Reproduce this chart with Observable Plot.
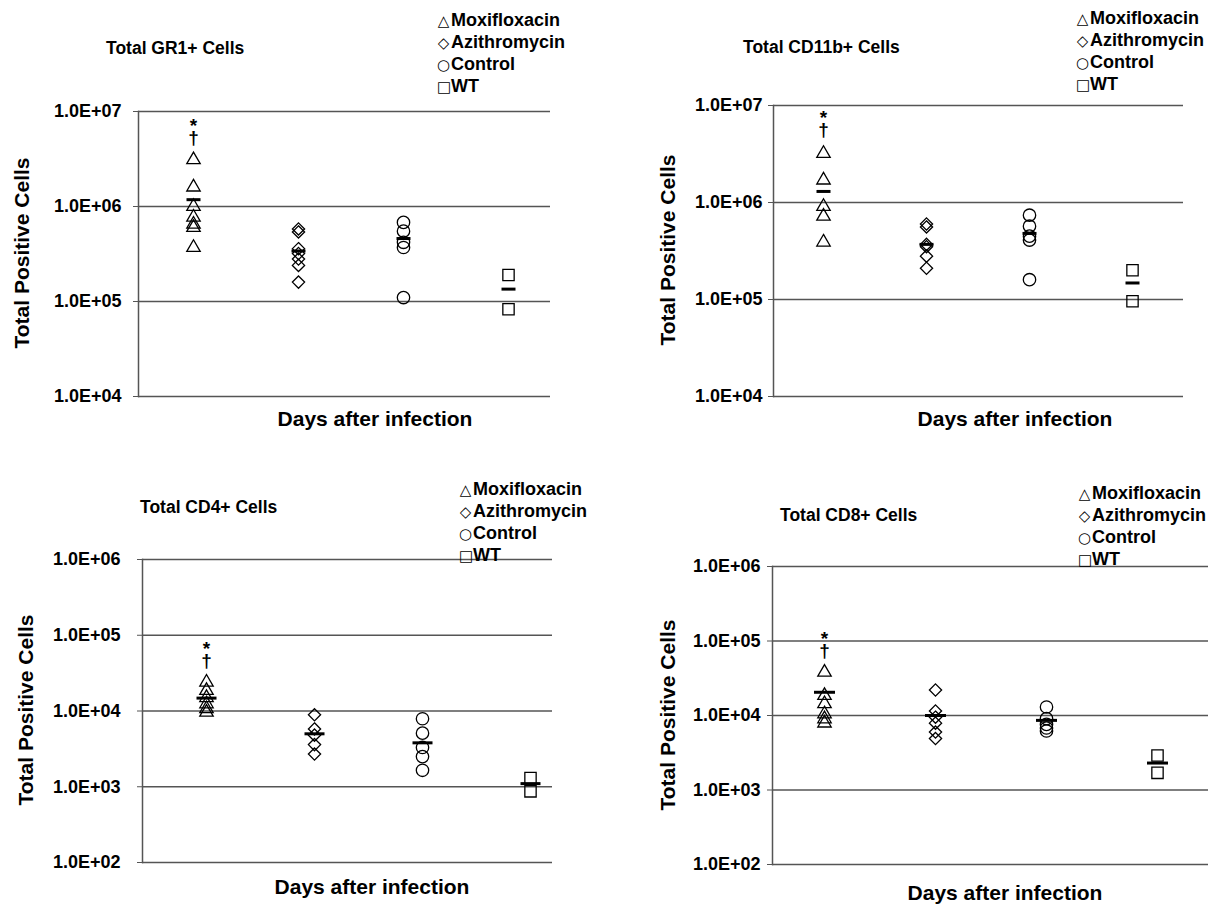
<!DOCTYPE html>
<html><head><meta charset="utf-8">
<script src="https://cdn.jsdelivr.net/npm/d3@7"></script>
<script src="https://cdn.jsdelivr.net/npm/@observablehq/plot@0.6"></script>
<style>
body{margin:0;background:#fff;}
#fig{position:relative;width:1220px;height:904px;overflow:hidden;font-family:"Liberation Sans",Arial,Helvetica,sans-serif;font-weight:bold;color:#000;}
.panel{position:absolute;}
.t{position:absolute;white-space:nowrap;}
.g{display:inline-block;width:13px;text-align:center;font-family:"DejaVu Sans",sans-serif;font-weight:normal;font-size:15px;margin-right:1px;}
</style></head><body><div id="fig"></div>
<script>
// ---- shared labels ----
const groups = ["Moxifloxacin", "Azithromycin", "Control", "WT"];
const legendGlyphs = ["△", "◇", "○", "□"];
const groupSymbols = ["triangle2", "diamond2", "circle", "square2"];
const sigLabel = "*\n†";
const yTitle = "Total Positive Cells";
const xTitle = "Days after infection";

// ---- GR1 ----
const gr1Title = "Total GR1+ Cells";
const gr1Ticks = [1e4, 1e5, 1e6, 1e7];
const gr1Values = [
  [3.1e6, 1.6e6, 1.0e6, 7.7e5, 6.5e5, 6.0e5, 3.7e5],
  [5.8e5, 5.4e5, 3.6e5, 3.2e5, 2.8e5, 2.4e5, 1.6e5],
  [6.8e5, 5.5e5, 4.2e5, 3.7e5, 1.1e5],
  [1.9e5, 8.3e4]
];
const gr1Means = [1.18e6, 3.4e5, 4.6e5, 1.35e5];
const gr1Sig = [6.1e6];

// ---- CD11b ----
const cd11bTitle = "Total CD11b+ Cells";
const cd11bTicks = [1e4, 1e5, 1e6, 1e7];
const cd11bValues = [
  [3.2e6, 1.7e6, 9.1e5, 7.2e5, 3.9e5],
  [6.0e5, 5.6e5, 3.7e5, 3.5e5, 2.8e5, 2.1e5],
  [7.4e5, 5.7e5, 4.5e5, 4.1e5, 1.6e5],
  [2.0e5, 9.6e4]
];
const cd11bMeans = [1.3e6, 3.7e5, 4.8e5, 1.48e5];
const cd11bSig = [6.4e6];

// ---- CD4 ----
const cd4Title = "Total CD4+ Cells";
const cd4Ticks = [1e2, 1e3, 1e4, 1e5, 1e6];
const cd4Values = [
  [2.4e4, 1.86e4, 1.5e4, 1.24e4, 1.07e4, 9.6e3],
  [8.9e3, 5.8e3, 4.8e3, 3.6e3, 2.7e3],
  [7.9e3, 5.1e3, 3.3e3, 2.5e3, 1.65e3],
  [1.3e3, 8.7e2]
];
const cd4Means = [1.48e4, 5.0e3, 3.8e3, 1.1e3];
const cd4Sig = [5.5e4];

// ---- CD8 ----
const cd8Title = "Total CD8+ Cells";
const cd8Ticks = [1e2, 1e3, 1e4, 1e5, 1e6];
const cd8Values = [
  [3.8e4, 1.85e4, 1.44e4, 1.05e4, 9.0e3, 7.9e3],
  [2.2e4, 1.15e4, 9.5e3, 7.9e3, 6.0e3, 4.9e3],
  [1.3e4, 9.1e3, 7.6e3, 6.8e3, 6.2e3],
  [2.9e3, 1.7e3]
];
const cd8Means = [2.05e4, 1.0e4, 8.6e3, 2.3e3];
const cd8Sig = [8.7e4];

// ---- layout (positions only) ----
const panels = [
  {title: gr1Title, ticks: gr1Ticks, values: gr1Values, means: gr1Means, sig: gr1Sig,
   box: {left: 0, top: 0, width: 610, height: 452}, margin: {left: 138, top: 111, right: 60, bottom: 56},
   xRange: [192, 509], tickPadding: 12, barR: 7,
   titlePos: [106, 48], legendPos: [444, 20], xLabelPos: [375, 419], yLabelPos: [22, 253]},
  {title: cd11bTitle, ticks: cd11bTicks, values: cd11bValues, means: cd11bMeans, sig: cd11bSig,
   box: {left: 610, top: 0, width: 610, height: 452}, margin: {left: 163, top: 105, right: 37, bottom: 56},
   xRange: [213, 522], tickPadding: 6, barR: 7,
   titlePos: [743, 47], legendPos: [1083, 18], xLabelPos: [1015, 419], yLabelPos: [668, 250]},
  {title: cd4Title, ticks: cd4Ticks, values: cd4Values, means: cd4Means, sig: cd4Sig,
   box: {left: 0, top: 452, width: 610, height: 452}, margin: {left: 142, top: 107, right: 58, bottom: 42},
   xRange: [205, 531], tickPadding: 17, barR: 10,
   titlePos: [140, 507], legendPos: [466, 489], xLabelPos: [372, 887], yLabelPos: [26, 710]},
  {title: cd8Title, ticks: cd8Ticks, values: cd8Values, means: cd8Means, sig: cd8Sig,
   box: {left: 610, top: 452, width: 610, height: 452}, margin: {left: 162, top: 114, right: 12, bottom: 40},
   xRange: [213, 547], tickPadding: 7, barR: 10.5,
   titlePos: [780, 515], legendPos: [1085, 493], xLabelPos: [1005, 893], yLabelPos: [668, 715]}
];

const symbolR = {triangle2: 6.4, diamond2: 5.5, circle: 6.2, square2: 7.2};
const dash = {draw(ctx, size) { const w = Math.sqrt(size / Math.PI); ctx.moveTo(-w, 0); ctx.lineTo(w, 0); }};
const fmt = d => "1.0E+" + String(Math.round(Math.log10(d))).padStart(2, "0");

const fig = document.getElementById("fig");
function addText(txt, x, y, css, center) {
  const el = document.createElement("div");
  el.className = "t";
  el.textContent = txt;
  el.style.left = x + "px";
  el.style.top = y + "px";
  el.style.transform = center ? "translate(-50%,-50%)" : "translate(0,-50%)";
  Object.assign(el.style, css || {});
  fig.appendChild(el);
  return el;
}

for (const p of panels) {
  const marks = [
    Plot.ruleY(p.ticks, {stroke: "#555", strokeWidth: 1.5}),
    Plot.frame({anchor: "left", stroke: "#555", strokeWidth: 1.5}),
    Plot.axisY({ticks: p.ticks, tickFormat: fmt, tickSize: 5, tickPadding: p.tickPadding, stroke: "#555", fill: "#000", fontSize: 18, fontWeight: "bold", label: null})
  ];
  groups.forEach((g, gi) => {
    const sym = groupSymbols[gi];
    marks.push(Plot.dot(p.values[gi].map(v => ({group: g, value: v})), {
      x: "group", y: "value", symbol: () => sym, r: symbolR[sym], stroke: "#000", strokeWidth: 1.3, fill: "none"
    }));
  });
  marks.push(Plot.dot(p.means.map((v, i) => ({group: groups[i], value: v})), {
    x: "group", y: "value", symbol: dash, r: p.barR, stroke: "#000", strokeWidth: 3
  }));
  marks.push(Plot.text(p.sig.map(v => ({group: groups[0], value: v})), {
    x: "group", y: "value", text: () => sigLabel, fontSize: 19, lineHeight: 0.62, fontWeight: "bold", fill: "#000", dy: 2
  }));

  const chart = Plot.plot({
    width: p.box.width, height: p.box.height,
    marginLeft: p.margin.left, marginTop: p.margin.top, marginRight: p.margin.right, marginBottom: p.margin.bottom,
    style: {fontFamily: '"Liberation Sans", Arial, sans-serif', fontWeight: "bold", fontSize: "18px", overflow: "visible", background: "transparent"},
    x: {type: "point", domain: groups, range: p.xRange, padding: 0, axis: null},
    y: {type: "log", domain: [p.ticks[0], p.ticks[p.ticks.length - 1]], axis: null},
    symbol: {type: "identity"},
    marks
  });
  const wrap = document.createElement("div");
  wrap.className = "panel";
  wrap.style.left = p.box.left + "px";
  wrap.style.top = p.box.top + "px";
  wrap.appendChild(chart);
  fig.appendChild(wrap);

  addText(p.title, p.titlePos[0], p.titlePos[1], {fontSize: "17.5px"});
  groups.forEach((g, gi) => {
    const el = addText("", p.legendPos[0] - 7, p.legendPos[1] + gi * 22, {fontSize: "18px", lineHeight: "22px"});
    const gs = document.createElement("span");
    gs.className = "g";
    gs.textContent = legendGlyphs[gi];
    el.appendChild(gs);
    el.appendChild(document.createTextNode(g));
  });
  addText(xTitle, p.xLabelPos[0], p.xLabelPos[1], {fontSize: "21px"}, true);
  const yl = addText(yTitle, p.yLabelPos[0], p.yLabelPos[1], {fontSize: "21px"}, true);
  yl.style.transform = "translate(-50%,-50%) rotate(-90deg)";
}
</script>
</body></html>
